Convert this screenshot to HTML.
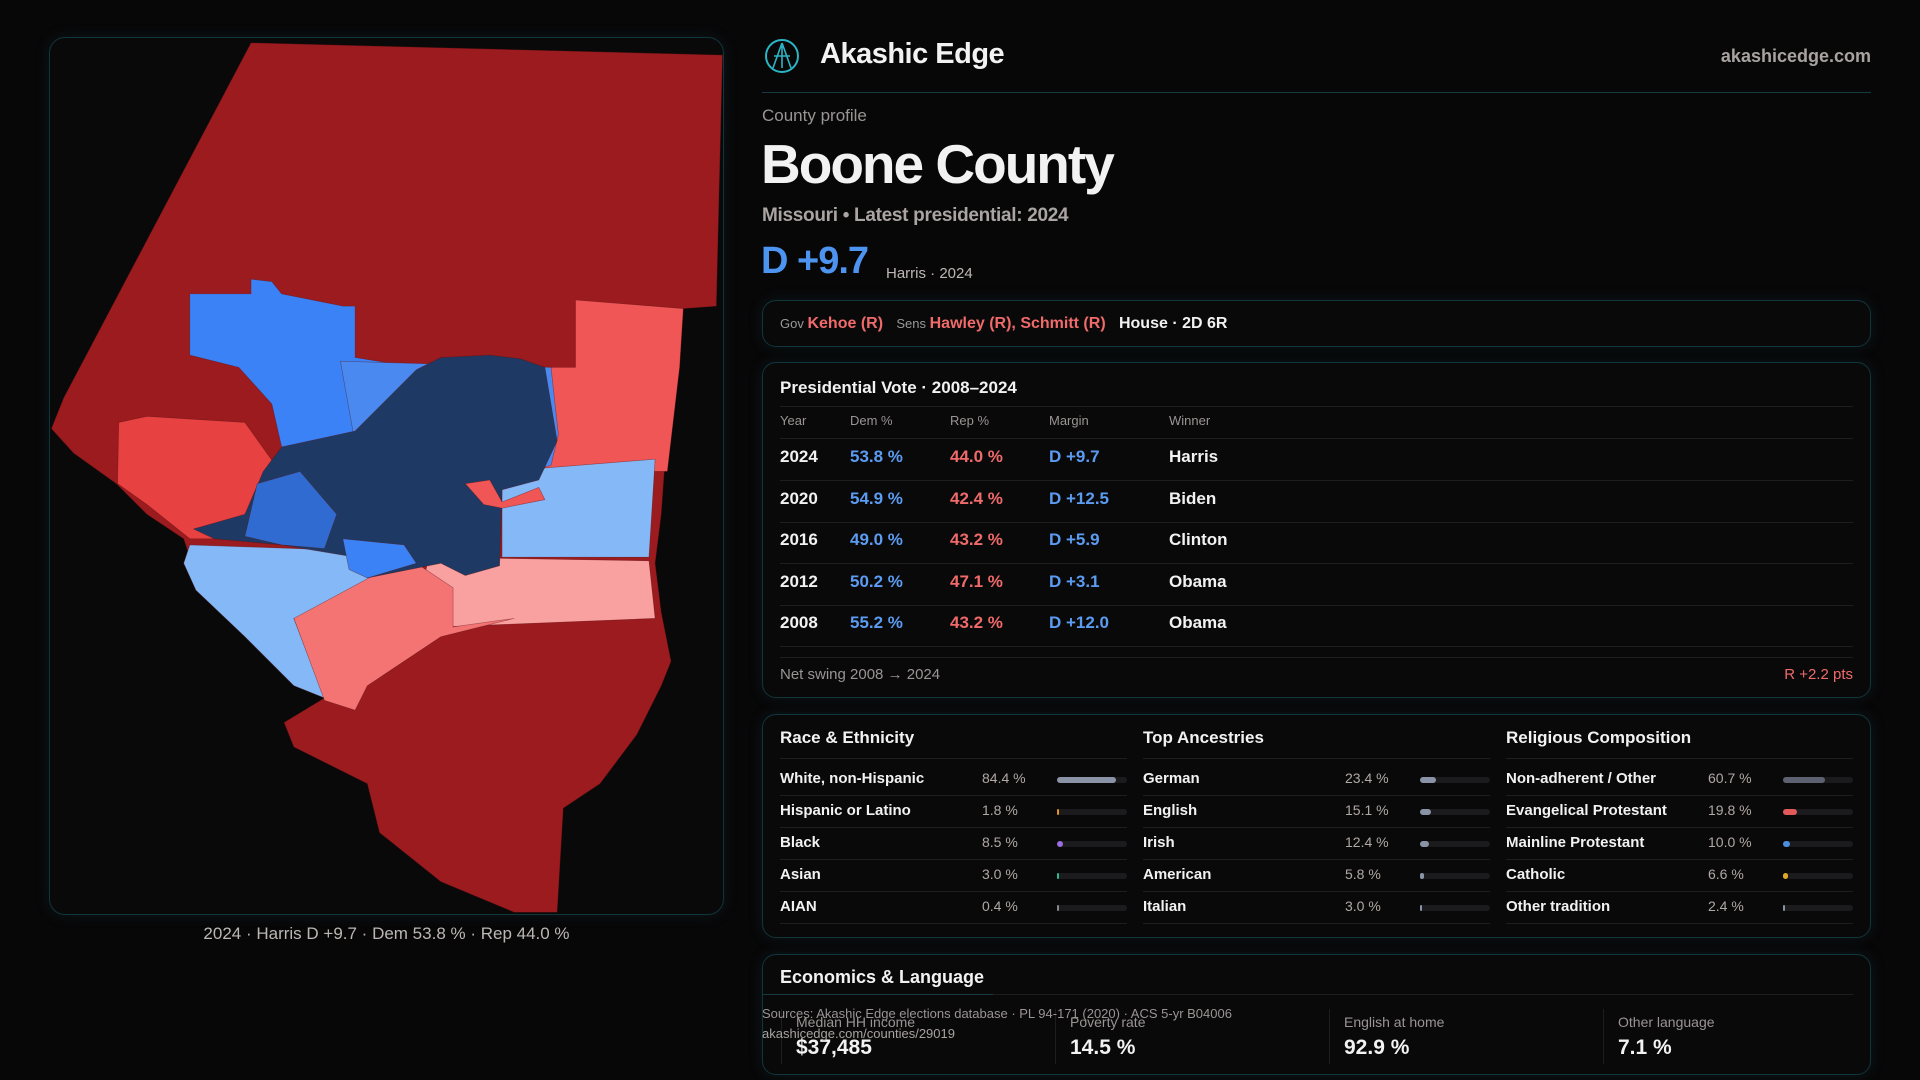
<!DOCTYPE html>
<html><head><meta charset="utf-8">
<style>
*{box-sizing:border-box;margin:0;padding:0}
body{width:1920px;height:1080px;background:#080708;font-family:"Liberation Sans",sans-serif;color:#f2f2f2;position:relative;overflow:hidden}
.abs{position:absolute;white-space:nowrap}
.card{position:absolute;left:762px;width:1109px;border:1px solid #10353b;border-radius:14px;background:#0a090a;box-shadow:0 0 14px rgba(20,70,80,.25)}
.muted{color:#9a9494}
.blue{color:#5b9cf2}.red{color:#f06a6a}
.hr{position:absolute;height:1px;background:#1e1e20}
.tr{position:absolute;height:6px;border-radius:3px;background:#1b1b1e}
.fl{position:absolute;height:6px;border-radius:3px}
</style></head><body>
<div class="abs" style="left:49px;top:37px;width:675px;height:878px;border:1px solid #10353b;border-radius:16px;background:#0a090a;box-shadow:0 0 14px rgba(20,70,80,.25)"></div>
<svg class="abs" style="left:0;top:0" width="1920" height="1080" viewBox="0 0 1568 882">
<g stroke="#5a1010" stroke-width="0.5" stroke-opacity="0.5">
<polygon fill="#9b1b1f" points="205,35 590,45 585,250 558,252 555,300 545,350 540,420 535,460 540,500 548,540 540,560 520,600 490,640 460,660 455,745 420,745 360,720 310,680 300,640 240,610 232,590 265,570 260,520 240,500 200,490 160,470 150,440 120,420 95,395 60,370 42,350 52,325"/>
<polygon fill="#f05656" points="470,245 558,252 555,300 545,385 445,385 445,300 470,300"/>
<polygon fill="#85b8f7" points="410,385 535,375 530,455 410,455"/>
<polygon fill="#f9a0a0" points="350,455 530,458 535,505 360,512 345,480"/>
<polygon fill="#85b8f7" points="155,445 300,450 305,500 240,505 265,570 240,560 200,520 160,482 150,460"/>
<polygon fill="#f47474" points="240,505 305,470 340,460 370,480 370,512 420,505 360,520 300,560 290,580 265,572"/>
<polygon fill="#e84142" points="97,345 120,340 200,345 225,380 215,440 155,440 120,412 96,395"/>
<polygon fill="#3b82f6" points="155,240 205,240 205,228 222,230 230,240 280,250 290,250 290,292 340,300 345,330 300,362 230,365 222,330 195,300 155,290"/>
<polygon fill="#4a8af0" points="278,295 450,300 456,355 450,380 410,392 380,390 370,370 290,362"/>
<polygon fill="#1e3a64" points="230,365 290,352 340,302 360,292 400,290 425,293 445,300 455,360 440,392 410,400 408,462 380,470 360,460 300,472 290,455 230,445 175,440 158,432 200,420 215,385"/>
<polygon fill="#2f6bd0" points="210,395 245,385 275,420 265,448 230,445 200,438"/>
<polygon fill="#3b82f6" points="280,440 330,445 340,460 300,472 285,465"/>
<polygon fill="#f05656" points="380,395 400,392 410,410 440,398 445,408 410,415 395,412"/>
</g>
</svg>
<div class="abs muted" style="left:49px;width:675px;text-align:center;top:924px;font-size:17px;color:#bdb7b4">2024 · Harris D +9.7 · Dem 53.8 % · Rep 44.0 %</div>

<svg class="abs" style="left:764px;top:38px" width="36" height="36" viewBox="0 0 36 36"><circle cx="18" cy="18" r="16" fill="none" stroke="#2bb5c4" stroke-width="2"/><path d="M18 5 L9 30 M18 5 L27 30 M10 18 H26 M18 5 V30" stroke="#2bb5c4" stroke-width="1.6" fill="none"/></svg>
<div class="abs" style="left:820px;top:38px;font-size:29px;font-weight:bold;letter-spacing:-0.5px">Akashic Edge</div>
<div class="abs muted" style="right:49px;top:46px;font-size:18px;font-weight:bold;color:#a8a2a0">akashicedge.com</div>
<div class="abs" style="left:762px;top:92px;width:1109px;height:1px;background:#163c42"></div>
<div class="abs muted" style="left:762px;top:106px;font-size:17px">County profile</div>
<div class="abs" style="left:761px;top:132px;font-size:55px;font-weight:bold;letter-spacing:-2px">Boone County</div>
<div class="abs" style="left:762px;top:205px;font-size:19px;font-weight:bold;color:#aaa4a2;letter-spacing:-0.3px">Missouri • Latest presidential: 2024</div>
<div class="abs blue" style="left:761px;top:240px;font-size:38px;font-weight:bold;letter-spacing:-1px;color:#4d94f0">D +9.7</div>
<div class="abs" style="left:886px;top:265px;font-size:15px;color:#bdb7b4">Harris · 2024</div>

<div class="card" style="top:300px;height:47px">
<div class="abs" style="left:17px;top:14px;font-size:16px;font-weight:bold"><span style="font-size:13px;font-weight:normal;color:#999">Gov </span> <span class="red">Kehoe (R)</span> &nbsp; <span style="font-size:13px;font-weight:normal;color:#999">Sens </span> <span class="red">Hawley (R), Schmitt (R)</span> &nbsp; House · 2D 6R</div>
</div>

<div class="card" style="top:362px;height:336px" id="pres">
<div class="abs" style="left:17px;top:15px;font-size:17px;font-weight:bold">Presidential Vote · 2008–2024</div>
<div class="hr" style="left:17px;right:17px;top:43px"></div>
<div class="abs muted" style="left:17px;top:50px;font-size:13px">Year</div>
<div class="abs muted" style="left:87px;top:50px;font-size:13px">Dem %</div>
<div class="abs muted" style="left:187px;top:50px;font-size:13px">Rep %</div>
<div class="abs muted" style="left:286px;top:50px;font-size:13px">Margin</div>
<div class="abs muted" style="left:406px;top:50px;font-size:13px">Winner</div>
<div class="hr" style="left:17px;right:17px;top:75px"></div>
<div class="hr" style="left:17px;right:17px;top:294px"></div>
<div class="abs muted" style="left:17px;top:303px;font-size:15px">Net swing 2008 → 2024</div>
<div class="abs red" style="right:17px;top:303px;font-size:15px">R +2.2 pts</div>
</div>

<div class="card" style="top:714px;height:224px" id="demo"></div>

<div class="card" style="top:954px;height:121px" id="econ">
<div class="abs" style="left:17px;top:12px;font-size:18px;font-weight:bold">Economics &amp; Language</div>
<div class="hr" style="left:17px;right:17px;top:39px"></div>
<div class="abs" style="left:0;top:39px;width:230px;height:1px;background:#163c42"></div>
</div>
<div class="abs muted" style="left:762px;top:1006px;font-size:13px;color:#9a9494">Sources: Akashic Edge elections database · PL 94-171 (2020) · ACS 5-yr B04006</div>
<div class="abs muted" style="left:762px;top:1026px;font-size:13px;color:#a8a2a0">akashicedge.com/counties/29019</div>

<script>
const years=["2024","2020","2016","2012","2008"];
const demPct=[53.8,54.9,49.0,50.2,55.2];
const repPct=[44.0,42.4,43.2,47.1,43.2];
const margins=[9.7,12.5,5.9,3.1,12.0];
const winners=["Harris","Biden","Clinton","Obama","Obama"];
const raceLabels=["White, non-Hispanic","Hispanic or Latino","Black","Asian","AIAN"];
const raceValues=[84.4,1.8,8.5,3.0,0.4];
const ancLabels=["German","English","Irish","American","Italian"];
const ancValues=[23.4,15.1,12.4,5.8,3.0];
const relLabels=["Non-adherent / Other","Evangelical Protestant","Mainline Protestant","Catholic","Other tradition"];
const relValues=[60.7,19.8,10.0,6.6,2.4];
const econLabels=["Median HH income","Poverty rate","English at home","Other language"];
const econValues=["$37,485","14.5 %","92.9 %","7.1 %"];
function mk(parent,cls,style,text){const d=document.createElement('div');d.className=cls;d.style.cssText=style;if(text!==undefined)d.textContent=text;parent.appendChild(d);return d;}
const pres=document.getElementById('pres');
years.forEach((y,i)=>{
 const top=84+i*41.6;
 const m=margins[i];
 const mt=(m>=0?'D +':'R +')+Math.abs(m).toFixed(1);
 let e=mk(pres,'abs','left:17px;top:'+top+'px;font-size:17px;font-weight:bold',y);
 
 
 e=mk(pres,'abs blue','left:87px;top:'+top+'px;font-size:17px;font-weight:bold',demPct[i].toFixed(1)+' %');
 
 
 e=mk(pres,'abs red','left:187px;top:'+top+'px;font-size:17px;font-weight:bold',repPct[i].toFixed(1)+' %');
 
 
 e=mk(pres,'abs '+(m>=0?'blue':'red'),'left:286px;top:'+top+'px;font-size:17px;font-weight:bold',mt);
 
 
 e=mk(pres,'abs','left:406px;top:'+top+'px;font-size:17px;font-weight:bold',winners[i]);
 
 
 if(i<4){e=mk(pres,'hr','left:17px;right:17px;top:'+(117+i*41.6)+'px');}
});
mk(pres,'hr','left:17px;right:17px;top:283px');
const demo=document.getElementById('demo');
const sections=[["Race & Ethnicity",raceLabels,raceValues,["#8a94a6","#e0912a","#9a6ee0","#2fb889","#888"]],
["Top Ancestries",ancLabels,ancValues,["#8a94a6","#8a94a6","#8a94a6","#8a94a6","#8a94a6"]],
["Religious Composition",relLabels,relValues,["#5e6270","#e05a5a","#4a8ee0","#e0a82a","#8a94a6"]]];
sections.forEach((s,k)=>{
 const x0=17+k*363;
 let e=mk(demo,'abs','left:'+x0+'px;top:13px;font-size:17px;font-weight:bold',s[0]);
 
 
 mk(demo,'hr','left:'+x0+'px;width:347px;top:43px');
 s[1].forEach((lab,i)=>{
  const top=55+i*32;
  e=mk(demo,'abs','left:'+x0+'px;top:'+top+'px;font-size:15px;font-weight:bold',lab);
  
  
  e=mk(demo,'abs muted','left:'+(x0+202)+'px;top:'+top+'px;font-size:14px;color:#b0a8a4',s[2][i].toFixed(1)+' %');
  
  
  e=mk(demo,'tr','left:'+(x0+277)+'px;width:70px;top:'+(top+7)+'px');
  
  
  e=mk(demo,'fl','left:'+(x0+277)+'px;width:'+Math.max(2,s[2][i]/100*70)+'px;top:'+(top+7)+'px;background:'+s[3][i]);
  
  
  mk(demo,'hr','left:'+x0+'px;width:347px;top:'+(top+25)+'px');
 });
});
const econ=document.getElementById('econ');
econLabels.forEach((lab,i)=>{
 const x0=33+i*274;
 let e=mk(econ,'abs muted','left:'+x0+'px;top:59px;font-size:14px',lab);
 
 
 e=mk(econ,'abs','left:'+x0+'px;top:81px;font-size:21px;font-weight:bold',econValues[i]);
 
 
 mk(econ,'abs','left:'+(x0-15)+'px;top:54px;width:1px;height:55px;background:#1e1e20');
});
</script>
</body></html>
